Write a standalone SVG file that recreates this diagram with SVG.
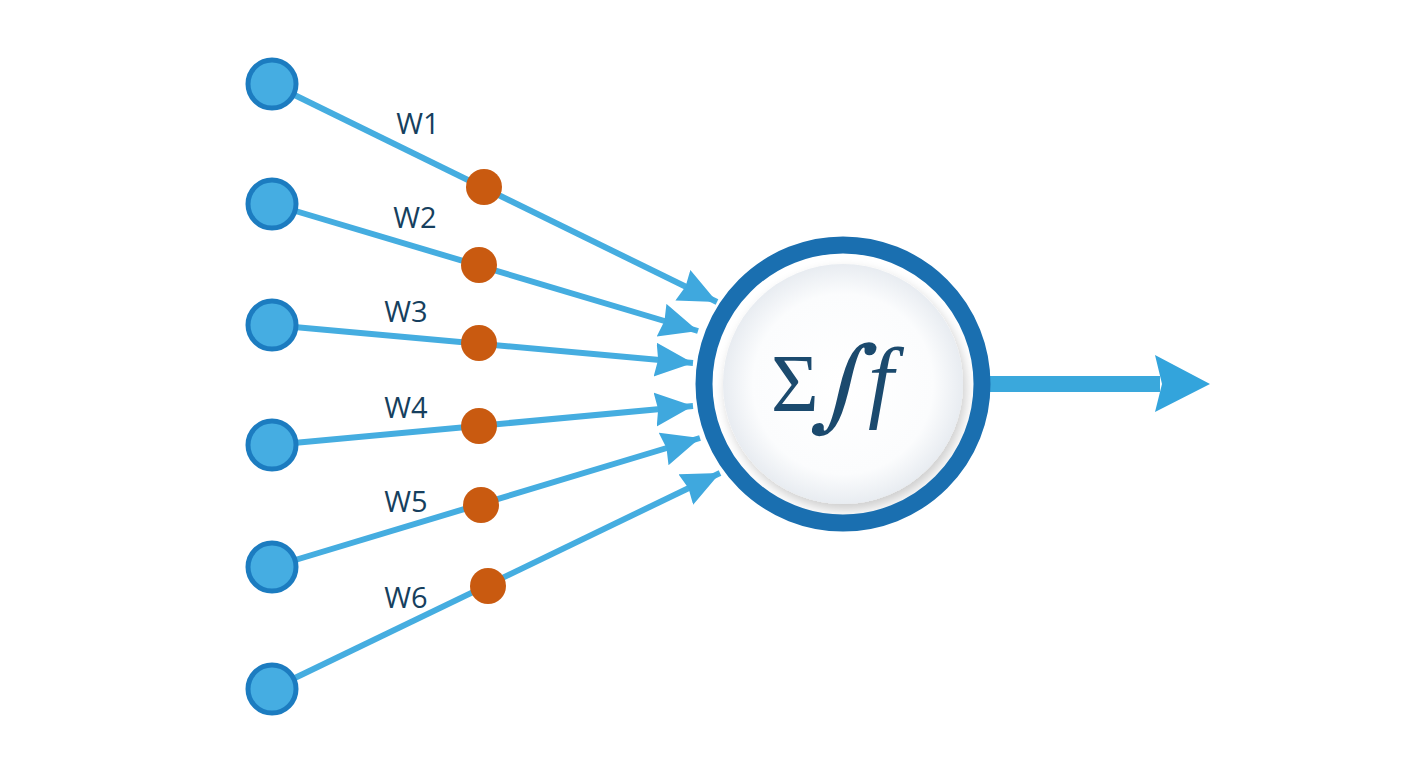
<svg xmlns="http://www.w3.org/2000/svg" width="1408" height="768" viewBox="0 0 1408 768">
<defs>
<style>
.in{fill:#45ade2;stroke:#1c7cc0;stroke-width:5}
.w{fill:#c95a10}
.edge{stroke:#45ade0;stroke-width:6;fill:none}
.lbl{font-family:"Open Sans","Noto Sans",sans-serif;font-size:29px;fill:#163f5e;text-anchor:middle}
</style>
<marker id="ah" markerUnits="userSpaceOnUse" markerWidth="40" markerHeight="36" refX="38" refY="17" orient="auto">
<path d="M0,0 L38,17 L0,34 L3,17 z" fill="#3fa8de"/>
</marker>
<radialGradient id="inner" cx="0.5" cy="0.5" r="0.5">
<stop offset="0" stop-color="#ffffff"/>
<stop offset="0.75" stop-color="#fbfcfd"/>
<stop offset="1" stop-color="#e8ecf1"/>
</radialGradient>
<filter id="sh" x="-20%" y="-20%" width="140%" height="140%">
<feGaussianBlur in="SourceAlpha" stdDeviation="6"/>
<feOffset dx="3" dy="6"/>
<feComponentTransfer><feFuncA type="linear" slope="0.2"/></feComponentTransfer>
<feMerge><feMergeNode/><feMergeNode in="SourceGraphic"/></feMerge>
</filter>
</defs>
<rect width="1408" height="768" fill="#ffffff"/>
<g id="connectors">
<line class="edge" x1="272" y1="84" x2="717" y2="302" marker-end="url(#ah)"/>
<line class="edge" x1="272" y1="204" x2="698" y2="331" marker-end="url(#ah)"/>
<line class="edge" x1="272" y1="325" x2="693" y2="363" marker-end="url(#ah)"/>
<line class="edge" x1="272" y1="445" x2="693" y2="406" marker-end="url(#ah)"/>
<line class="edge" x1="272" y1="567" x2="700" y2="438" marker-end="url(#ah)"/>
<line class="edge" x1="272" y1="689" x2="720" y2="473" marker-end="url(#ah)"/>
<line x1="988" y1="384" x2="1160" y2="384" stroke="#3aa8dc" stroke-width="16"/>
<path d="M1155,355 L1210,384 L1155,412 L1162,384 z" fill="#33a4dc"/>
</g>
<g id="inputs">
<circle id="x1" class="in" cx="272" cy="84" r="24"/>
<circle id="x2" class="in" cx="272" cy="204" r="24"/>
<circle id="x3" class="in" cx="272" cy="325" r="24"/>
<circle id="x4" class="in" cx="272" cy="445" r="24"/>
<circle id="x5" class="in" cx="272" cy="567" r="24"/>
<circle id="x6" class="in" cx="272" cy="689" r="24"/>
</g>
<g id="weights">
<circle id="w1" class="w" cx="484" cy="187" r="18"/>
<circle id="w2" class="w" cx="479" cy="265" r="18"/>
<circle id="w3" class="w" cx="479" cy="343" r="18"/>
<circle id="w4" class="w" cx="479" cy="426" r="18"/>
<circle id="w5" class="w" cx="481" cy="505" r="18"/>
<circle id="w6" class="w" cx="488" cy="586" r="18"/>
</g>
<g id="labels">
<text class="lbl" x="418" y="134">W1</text>
<text class="lbl" x="415" y="228">W2</text>
<text class="lbl" x="406" y="322">W3</text>
<text class="lbl" x="406" y="418">W4</text>
<text class="lbl" x="406" y="512">W5</text>
<text class="lbl" x="406" y="608">W6</text>
</g>
<g id="neuron">
<circle cx="843" cy="384" r="120" fill="url(#inner)" filter="url(#sh)"/>
<circle cx="843" cy="384" r="139" fill="none" stroke="#1a6fb0" stroke-width="17"/>
<text x="771" y="411" font-family="Liberation Serif, serif" font-size="82" fill="#1b4a6e">Σ</text>
<text x="838" y="418" font-family="DejaVu Serif, serif" font-size="100" fill="#1b4a6e" text-anchor="middle" transform="skewX(-12) translate(89 0)">∫</text>
<text x="868" y="411" font-family="Liberation Serif, serif" font-size="92" font-style="italic" fill="#1b4a6e">f</text>
</g>
</svg>
